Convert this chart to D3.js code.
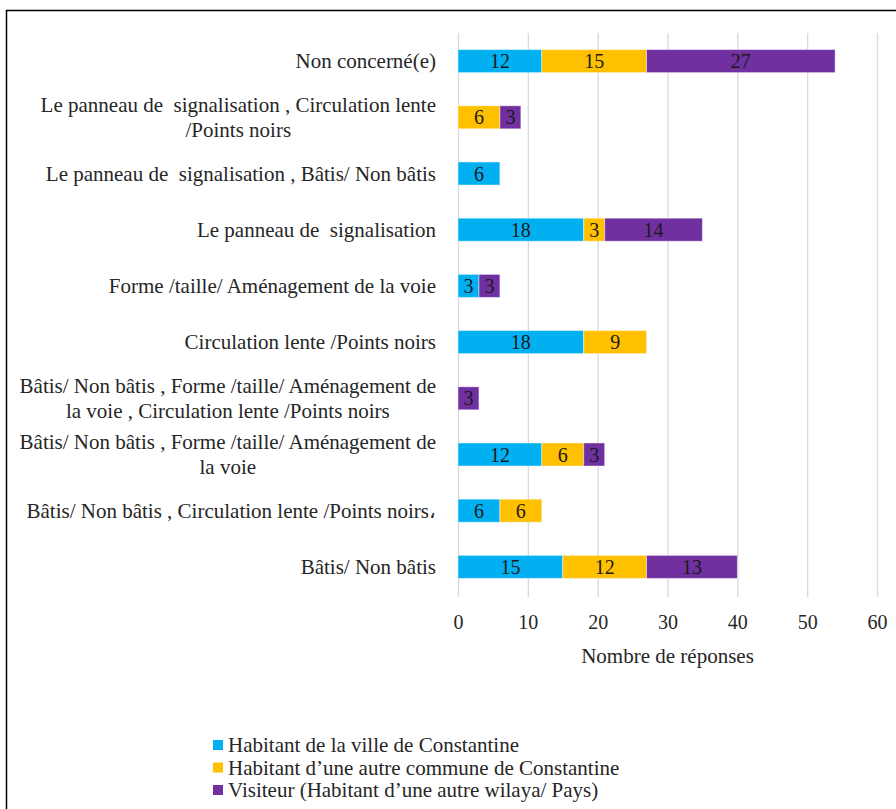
<!DOCTYPE html>
<html>
<head>
<meta charset="utf-8">
<script src="https://cdn.jsdelivr.net/npm/d3@7/dist/d3.min.js"></script>
<style>
  html, body { margin: 0; padding: 0; background: #fff; }
  svg { display: block; font-family: "Liberation Serif", "Times New Roman", serif; }
  text { white-space: pre; }
</style>
</head>
<body>
<svg id="chart" width="896" height="809"></svg>
<script>
// Categories, top to bottom; "\n" marks a manual line break
const categories = [
  "Non concerné(e)",
  "Le panneau de  signalisation , Circulation lente\n/Points noirs",
  "Le panneau de  signalisation , Bâtis/ Non bâtis",
  "Le panneau de  signalisation",
  "Forme /taille/ Aménagement de la voie",
  "Circulation lente /Points noirs",
  "Bâtis/ Non bâtis , Forme /taille/ Aménagement de\nla voie , Circulation lente /Points noirs",
  "Bâtis/ Non bâtis , Forme /taille/ Aménagement de\nla voie",
  "Bâtis/ Non bâtis , Circulation lente /Points noirs،",
  "Bâtis/ Non bâtis"
];
const seriesNames = [
  "Habitant de la ville de Constantine",
  "Habitant d\u2019une autre commune de Constantine",
  "Visiteur (Habitant d\u2019une autre wilaya/ Pays)"
];
const habitantsVille   = [12, 0, 6, 18, 3, 18, 0, 12, 6, 15];
const autreCommune     = [15, 6, 0, 3, 0, 9, 0, 6, 6, 12];
const visiteurs        = [27, 3, 0, 14, 3, 0, 3, 3, 0, 13];
const xTicks = [0, 10, 20, 30, 40, 50, 60];
const colors = ["#00B0F0", "#FFC000", "#7030A0"];

const svg = d3.select("#chart");

// outer frame
svg.append("rect")
  .attr("x", 6.5).attr("y", 10.5)
  .attr("width", 900).attr("height", 820)
  .attr("fill", "none").attr("stroke", "#000").attr("stroke-width", 1.5);

const x = d3.scaleLinear().domain([0, 60]).range([458, 877]);
const y = d3.scaleBand().domain(categories).range([33, 595]).paddingInner(0.59).paddingOuter(0.295);

// vertical gridlines
svg.append("g").selectAll("line").data(xTicks).join("line")
  .attr("x1", d => x(d) + 0.5).attr("x2", d => x(d) + 0.5)
  .attr("y1", 33).attr("y2", 597)
  .attr("stroke", "#d9d9d9").attr("stroke-width", 1.3);

// x axis tick labels
const xAxis = d3.axisBottom(x).tickValues(xTicks).tickSize(0).tickPadding(0);
const gx = svg.append("g").attr("transform", "translate(0,622)").call(xAxis);
gx.select(".domain").remove();
gx.selectAll("text")
  .attr("font-family", "Liberation Serif, serif")
  .attr("font-size", 20).attr("fill", "#262626").attr("dy", "0.35em");

svg.append("text")
  .attr("x", x(30)).attr("y", 656).attr("dy", "0.35em")
  .attr("text-anchor", "middle").attr("font-size", 21).attr("fill", "#262626")
  .text("Nombre de réponses");

// stacked data
const rows = categories.map((c, i) => ({
  cat: c,
  s0: habitantsVille[i], s1: autreCommune[i], s2: visiteurs[i]
}));
const stack = d3.stack().keys(["s0", "s1", "s2"])(rows);

const layers = svg.append("g").selectAll("g").data(stack).join("g")
  .attr("fill", (d, i) => colors[i]);

layers.selectAll("rect").data(d => d.filter(p => p[1] - p[0] > 0)).join("rect")
  .attr("x", p => x(p[0]))
  .attr("y", p => y(p.data.cat))
  .attr("width", p => x(p[1]) - x(p[0]))
  .attr("height", y.bandwidth())
  .attr("stroke", "rgba(255,255,255,0.45)").attr("stroke-width", 1);

// value labels centered in segments
layers.selectAll("text").data(d => d.filter(p => p[1] - p[0] > 0)).join("text")
  .attr("x", p => (x(p[0]) + x(p[1])) / 2)
  .attr("y", p => y(p.data.cat) + y.bandwidth() / 2)
  .attr("dy", "0.35em")
  .attr("text-anchor", "middle").attr("font-size", 20).attr("fill", "#1a1a1a")
  .text(p => p[1] - p[0]);

// category labels: block right-aligned, lines centred within the block
const labelRight = 436;
const lineH = 25;
const labelG = svg.append("g");
categories.forEach(c => {
  const lines = c.split("\n");
  const cy = y(c) + y.bandwidth() / 2;
  const g = labelG.append("g");
  const texts = lines.map((ln, k) => g.append("text")
    .attr("y", cy + (k - (lines.length - 1) / 2) * lineH)
    .attr("dy", "0.35em")
    .attr("font-size", 21).attr("fill", "#262626")
    .text(ln));
  const widths = texts.map(t => t.node().getComputedTextLength());
  const maxW = d3.max(widths);
  const center = labelRight - maxW / 2;
  texts.forEach(t => t.attr("x", center).attr("text-anchor", "middle"));
});

// legend
const legend = svg.append("g");
seriesNames.forEach((name, i) => {
  const ly = 745 + i * 22.5;
  legend.append("rect")
    .attr("x", 213).attr("y", ly - 5).attr("width", 10).attr("height", 10)
    .attr("fill", colors[i]);
  legend.append("text")
    .attr("x", 228).attr("y", ly).attr("dy", "0.35em")
    .attr("font-size", 21).attr("fill", "#262626")
    .text(name);
});
</script>
</body>
</html>
